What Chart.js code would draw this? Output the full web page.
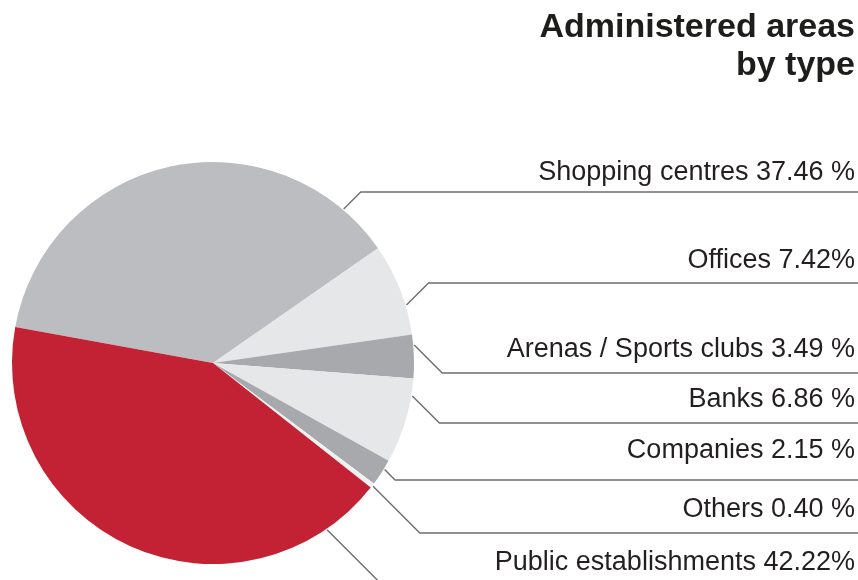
<!DOCTYPE html>
<html>
<head>
<meta charset="utf-8">
<title>Administered areas by type</title>
<script src="https://cdn.jsdelivr.net/npm/chart.js@4/dist/chart.umd.min.js"></script>
<style>
  html, body { margin: 0; padding: 0; background: #ffffff; }
  #wrap { position: relative; width: 858px; height: 580px; overflow: hidden; }
  canvas { display: block; }
</style>
</head>
<body>
<div id="wrap"><canvas id="pie" width="858" height="580"></canvas></div>
<script>
// Area categories and their share of the administered portfolio (%)
const categories = [
  'Shopping centres',
  'Offices',
  'Arenas / Sports clubs',
  'Banks',
  'Companies',
  'Others',
  'Public establishments'
];
const shares = [37.46, 7.42, 3.49, 6.86, 2.15, 0.40, 42.22];
const percentSuffix = [' %', '%', ' %', ' %', ' %', ' %', '%'];
const titleLines = ['Administered areas', 'by type'];

// Slice colours
const sliceColors = ['#bcbdc0', '#e6e7e8', '#a7a9ac', '#e6e7e8', '#a7a9ac', '#f1f1f2', '#c22233'];

// Callout layout: where on its arc each leader leaves (fraction of the slice),
// the y of its horizontal rule and the label baseline.
const calloutAnchor = [0.89, 0.68, 0.24, 0.20, 0.35, 0.50, 0.114];
const calloutRuleY = [192, 283, 373, 423, 480, 533, 660];
const calloutTextY = [180, 268, 357, 407, 458, 517, 570];

const RIGHT_EDGE = 858;
const TEXT_RIGHT = 855;

const calloutPlugin = {
  id: 'callouts',
  afterDraw(chart) {
    const ctx = chart.ctx;
    const arcs = chart.getDatasetMeta(0).data;
    ctx.save();

    // title
    ctx.fillStyle = '#1d1d1b';
    ctx.textAlign = 'right';
    ctx.textBaseline = 'alphabetic';
    ctx.font = 'bold 34px "Liberation Sans", Arial, sans-serif';
    ctx.fillText(titleLines[0], TEXT_RIGHT, 37);
    ctx.fillText(titleLines[1], TEXT_RIGHT, 75);

    // leader lines
    ctx.strokeStyle = '#6d6e71';
    ctx.lineWidth = 1.4;
    arcs.forEach((arc, i) => {
      const p = arc.getProps(['x', 'y', 'startAngle', 'endAngle', 'outerRadius'], true);
      const a = p.startAngle + calloutAnchor[i] * (p.endAngle - p.startAngle);
      const r = p.outerRadius + 1;
      const ax = p.x + Math.cos(a) * r;
      const ay = p.y + Math.sin(a) * r;
      const ry = calloutRuleY[i];
      const ex = ax + Math.abs(ry - ay);
      ctx.beginPath();
      ctx.moveTo(ax, ay);
      ctx.lineTo(ex, ry);
      ctx.lineTo(RIGHT_EDGE + 2, ry);
      ctx.stroke();
    });

    // labels
    ctx.fillStyle = '#231f20';
    ctx.font = '27px "Liberation Sans", Arial, sans-serif';
    categories.forEach((name, i) => {
      const text = name + ' ' + shares[i].toFixed(2) + percentSuffix[i];
      ctx.fillText(text, TEXT_RIGHT, calloutTextY[i]);
    });
    ctx.restore();
  }
};

new Chart(document.getElementById('pie'), {
  type: 'pie',
  data: {
    labels: categories,
    datasets: [{
      data: shares,
      backgroundColor: sliceColors,
      borderWidth: 0,
      hoverOffset: 0
    }]
  },
  options: {
    responsive: false,
    animation: false,
    rotation: 280.3,
    layout: { padding: { left: 12, top: 162, right: 444, bottom: 16 } },
    plugins: {
      legend: { display: false },
      tooltip: { enabled: false }
    },
    events: []
  },
  plugins: [calloutPlugin]
});
</script>
</body>
</html>
